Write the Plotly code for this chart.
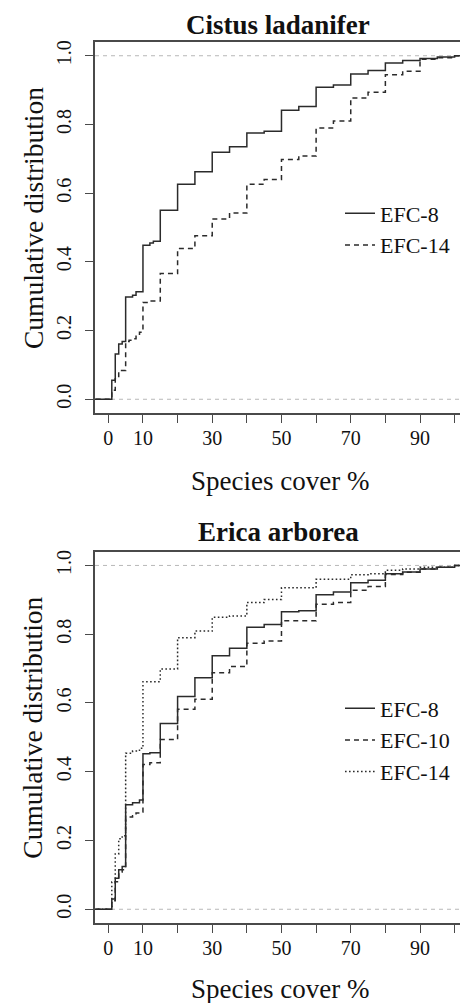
import plotly.graph_objects as go

# ---------------- data ----------------
# Panel 1: Cistus ladanifer
cistus_efc8_x = [1, 2, 3, 4, 5, 7, 8, 10, 12, 13, 15, 20, 25, 30, 35, 40, 45, 50, 55, 60, 65, 70, 75, 80, 85, 90, 95, 100]
cistus_efc8_y = [0.055, 0.132, 0.161, 0.168, 0.298, 0.303, 0.313, 0.448, 0.455, 0.460, 0.550, 0.626, 0.662, 0.719, 0.735,
                 0.775, 0.780, 0.841, 0.852, 0.908, 0.915, 0.947, 0.957, 0.979, 0.986, 0.992, 0.996, 1.0]

cistus_efc14_x = [1, 2, 3, 5, 6, 7, 8, 9, 10, 12, 15, 20, 25, 30, 35, 40, 45, 50, 55, 60, 65, 70, 75, 80, 85, 90, 95, 100]
cistus_efc14_y = [0.026, 0.060, 0.084, 0.168, 0.172, 0.176, 0.186, 0.195, 0.282, 0.286, 0.366, 0.439, 0.476, 0.525, 0.542,
                  0.626, 0.640, 0.698, 0.708, 0.790, 0.810, 0.877, 0.894, 0.945, 0.955, 0.990, 0.994, 1.0]

# Panel 2: Erica arborea
erica_efc8_x = [1, 2, 3, 4, 5, 7, 9, 10, 12, 15, 20, 25, 30, 35, 40, 45, 50, 55, 60, 65, 70, 75, 80, 85, 90, 95, 100]
erica_efc8_y = [0.030, 0.090, 0.115, 0.124, 0.304, 0.310, 0.318, 0.452, 0.455, 0.540, 0.619, 0.673, 0.737, 0.759, 0.820,
                0.828, 0.865, 0.868, 0.915, 0.923, 0.950, 0.957, 0.976, 0.981, 0.990, 0.995, 1.0]

erica_efc10_x = [1, 2, 3, 4, 5, 7, 8, 9, 10, 12, 15, 20, 25, 30, 35, 40, 45, 50, 60, 65, 70, 75, 80, 85, 90, 95, 100]
erica_efc10_y = [0.025, 0.080, 0.108, 0.115, 0.268, 0.272, 0.280, 0.283, 0.421, 0.426, 0.494, 0.582, 0.611, 0.688, 0.706,
                 0.774, 0.780, 0.839, 0.887, 0.892, 0.928, 0.939, 0.974, 0.980, 0.990, 0.995, 1.0]

erica_efc14_x = [1, 2, 3, 4, 5, 7, 9, 10, 15, 20, 25, 30, 35, 40, 45, 50, 60, 70, 75, 80, 85, 90, 100]
erica_efc14_y = [0.079, 0.161, 0.205, 0.214, 0.454, 0.460, 0.468, 0.662, 0.699, 0.790, 0.809, 0.849, 0.853, 0.892, 0.901,
                 0.935, 0.960, 0.973, 0.976, 0.986, 0.990, 0.995, 1.0]

x_tick_vals = [0, 10, 20, 30, 40, 50, 60, 70, 80, 90, 100]
x_tick_text = ["0", "10", "", "30", "", "50", "", "70", "", "90", ""]
y_tick_vals = [0, 0.2, 0.4, 0.6, 0.8, 1.0]
y_tick_text = ["0.0", "0.2", "0.4", "0.6", "0.8", "1.0"]

panel_titles = ["Cistus ladanifer", "Erica arborea"]
x_title = "Species cover %"
y_title = "Cumulative distribution"

# ---------------- style ----------------
FONT = "'Liberation Serif', 'Times New Roman', Times, 'DejaVu Serif', serif"
AXCOL = "#4a4a4a"
LINECOL = "#2b2b2b"
X_RANGE = [-3.85, 101.55]
Y_RANGE = [-0.04, 1.04]
DASH = {"solid": "solid", "dash": "5px,4px", "dot": "1.6px,2.4px"}


def ecdf_xy(xs, ys):
    # extend the step function to the plot edges (as R's plot.ecdf does)
    return [X_RANGE[0] - 5] + list(xs) + [X_RANGE[1] + 5], [0] + list(ys) + [ys[-1]]


fig = go.Figure()

series = [
    ("x", "y", "legend", "EFC-8", cistus_efc8_x, cistus_efc8_y, "solid"),
    ("x", "y", "legend", "EFC-14", cistus_efc14_x, cistus_efc14_y, "dash"),
    ("x2", "y2", "legend2", "EFC-8", erica_efc8_x, erica_efc8_y, "solid"),
    ("x2", "y2", "legend2", "EFC-10", erica_efc10_x, erica_efc10_y, "dash"),
    ("x2", "y2", "legend2", "EFC-14", erica_efc14_x, erica_efc14_y, "dot"),
]
for xa, ya, lg, name, xs, ys, dash in series:
    X, Y = ecdf_xy(xs, ys)
    fig.add_trace(go.Scatter(
        x=X, y=Y, mode="lines", name=name, xaxis=xa, yaxis=ya, legend=lg,
        line=dict(shape="hv", color=LINECOL, width=1.5, dash=DASH[dash]),
        hoverinfo="skip",
    ))

# gray dashed reference lines at 0 and 1
for yref in ["y", "y2"]:
    for v in [0, 1]:
        fig.add_shape(type="line", xref="paper", yref=yref, x0=0, x1=1, y0=v, y1=v,
                      line=dict(color="#b8b8b8", width=1, dash="4px,4px"), layer="below")

T, B = 42, 80
H = 1003 - T - B
top_dom = [1 - (413 - T) / H, 1]
bot_dom = [0, 1 - (551.7 - T) / H]


def py2paper(py):
    return 1 - (py - T) / H


def px2paper(px):
    return (px - 95) / 365


xcommon = dict(range=X_RANGE, showline=True, linecolor=AXCOL, linewidth=1.6, mirror=True,
               showgrid=False, zeroline=False, ticks="outside", ticklen=8, tickwidth=1.4,
               tickcolor=AXCOL, tickvals=x_tick_vals, ticktext=x_tick_text,
               tickfont=dict(family=FONT, size=20, color="#111"), ticklabelstandoff=-2,
               fixedrange=True)
ycommon = dict(range=Y_RANGE, showline=True, linecolor=AXCOL, linewidth=1.6, mirror=False,
               showgrid=False, zeroline=False, ticks="outside", ticklen=8, tickwidth=1.4,
               tickcolor=AXCOL, tickvals=y_tick_vals, ticktext=y_tick_text, tickangle=-90,
               tickfont=dict(family=FONT, size=20, color="#111"), ticklabelstandoff=6,
               fixedrange=True)

legcommon = dict(xref="paper", yref="paper", xanchor="left", yanchor="middle",
                 font=dict(family=FONT, size=22, color="#111"), bgcolor="rgba(0,0,0,0)",
                 tracegroupgap=0, itemclick=False, itemdoubleclick=False)

annotations = []
for i, (title, tcy, xcy, ycy) in enumerate([
        (panel_titles[0], 25, 481, 218),
        (panel_titles[1], 531.7, 989, 727.7)]):
    annotations.append(dict(text="<b>%s</b>" % title, xref="paper", yref="paper",
                            x=px2paper(278), y=py2paper(tcy), xanchor="center", yanchor="middle",
                            showarrow=False, font=dict(family=FONT, size=27, color="#111")))
    annotations.append(dict(text=x_title, xref="paper", yref="paper",
                            x=px2paper(280), y=py2paper(xcy), xanchor="center", yanchor="middle",
                            showarrow=False, font=dict(family=FONT, size=27, color="#111")))
    annotations.append(dict(text=y_title, xref="paper", yref="paper", textangle=-90,
                            x=px2paper(33), y=py2paper(ycy), xanchor="center", yanchor="middle",
                            showarrow=False, font=dict(family=FONT, size=27.5, color="#111")))

fig.update_layout(
    width=460, height=1003,
    margin=dict(l=95, r=0, t=T, b=B, pad=0),
    paper_bgcolor="white", plot_bgcolor="white",
    font=dict(family=FONT),
    showlegend=True,
    xaxis=dict(domain=[0, 1], anchor="y", **xcommon),
    yaxis=dict(domain=top_dom, anchor="x", **ycommon),
    xaxis2=dict(domain=[0, 1], anchor="y2", **xcommon),
    yaxis2=dict(domain=bot_dom, anchor="x2", **ycommon),
    legend=dict(x=px2paper(340), y=py2paper(229.5), **legcommon),
    legend2=dict(x=px2paper(340), y=py2paper(740), **legcommon),
    annotations=annotations,
)

fig.write_html("out.html")
